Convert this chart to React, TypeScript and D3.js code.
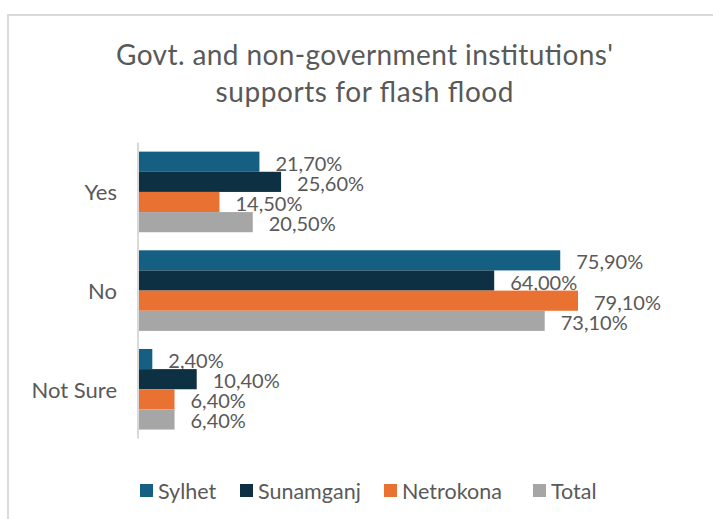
import React from "react";
import * as d3 from "d3";

const categories = ["Yes", "No", "Not Sure"];
const seriesNames = ["Sylhet", "Sunamganj", "Netrokona", "Total"];
const sylhet = [21.7, 75.9, 2.4];
const sunamganj = [25.6, 64.0, 10.4];
const netrokona = [14.5, 79.1, 6.4];
const total = [20.5, 73.1, 6.4];
const seriesColors = ["#156082", "#0E3043", "#E97132", "#A6A6A6"];
const titleLines = ["Govt. and non-government institutions'", "supports for flash flood"];

const W = 713;
const H = 519;
const FONT = "Lato, 'Open Sans', sans-serif";
const TEXT = "#595959";

export default function App() {
  const seriesValues = [sylhet, sunamganj, netrokona, total];
  const x = d3.scaleLinear().domain([0, 100]).range([139, 694]);
  const y = d3.scaleBand<string>().domain(categories).range([142.6, 438.6]).paddingInner(0.183).paddingOuter(0.0915);
  const inner = d3.scaleBand<number>().domain(d3.range(seriesNames.length)).range([0, y.bandwidth()]);
  const fmt = (v: number) => v.toFixed(2).replace(".", ",") + "%";

  const legendX = [140, 240, 384, 533];
  const titleWidths = [497, 298];

  return (
    <svg width={W} height={H} style={{ position: "absolute", left: 0, top: 0 }} fontFamily={FONT}>
      <rect x={0} y={0} width={W} height={H} fill="#fff" />
      <path d={`M8,${H} V15 H${W}`} fill="none" stroke="#d9d9d9" strokeWidth={2} />
      {titleLines.map((t, i) => (
        <text
          key={i}
          x={364.5}
          y={65 + i * 36.5}
          textAnchor="middle"
          fontSize={28}
          fill={TEXT}
          textLength={titleWidths[i]}
          lengthAdjust="spacing"
        >
          {t}
        </text>
      ))}
      {categories.map((c, ci) =>
        seriesValues.map((vals, si) => {
          const by = (y(c) as number) + (inner(si) as number);
          return (
            <g key={c + si}>
              <rect x={x(0)} y={by} width={x(vals[ci]) - x(0)} height={inner.bandwidth()} fill={seriesColors[si]} />
              <text
                x={x(vals[ci]) + 16}
                y={by + inner.bandwidth() / 2 + 1}
                dominantBaseline="central"
                fontSize={20}
                fill={TEXT}
              >
                {fmt(vals[ci])}
              </text>
            </g>
          );
        })
      )}
      <line x1={138} x2={138} y1={142.6} y2={438.6} stroke="#d9d9d9" strokeWidth={2} />
      {categories.map((c) => (
        <text
          key={c}
          x={117}
          y={(y(c) as number) + y.bandwidth() / 2}
          dominantBaseline="central"
          textAnchor="end"
          fontSize={22}
          fill={TEXT}
        >
          {c}
        </text>
      ))}
      {seriesNames.map((s, i) => (
        <g key={s}>
          <rect x={legendX[i]} y={484} width={13} height={13} fill={seriesColors[i]} />
          <text x={legendX[i] + 18} y={491} dominantBaseline="central" fontSize={21.5} fill={TEXT}>
            {s}
          </text>
        </g>
      ))}
    </svg>
  );
}
